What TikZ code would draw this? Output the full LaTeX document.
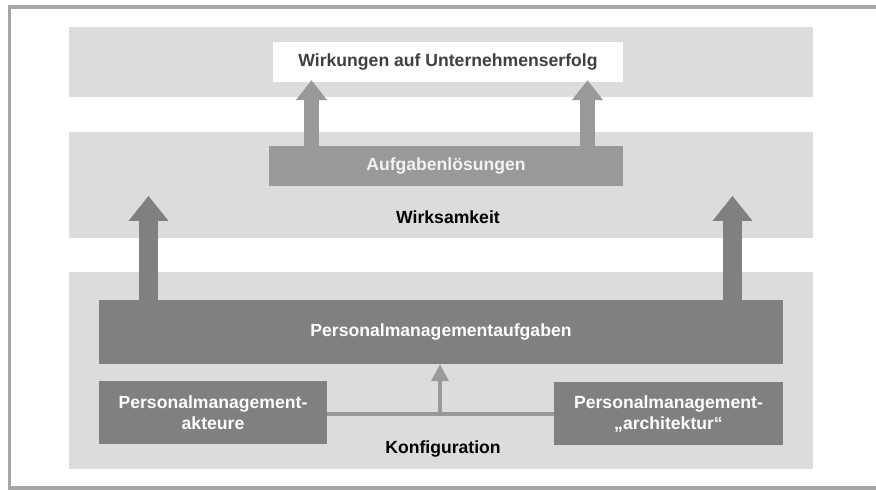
\documentclass[tikz,border=0pt]{standalone}
\usepackage{fontspec}
\setmainfont{Liberation Sans}
\usetikzlibrary{arrows.meta}
\definecolor{band}{HTML}{DCDCDC}
\definecolor{midgray}{HTML}{999999}
\definecolor{darkbox}{HTML}{808080}
\definecolor{framec}{HTML}{A6A6A6}
\definecolor{toptext}{HTML}{404040}
\tikzset{
  band/.style={fill=band, draw=none, inner sep=0pt},
  boxbase/.style={draw=none, inner sep=0pt, align=center, font=\fontsize{17.6}{21}\selectfont\bfseries},
  lightbox/.style={boxbase, fill=midgray, text=white!95!black},
  darkbx/.style={boxbase, fill=darkbox, text=white},
  whitebox/.style={boxbase, fill=white, text=toptext},
  caption/.style={inner sep=0pt, font=\fontsize{17.6}{21}\selectfont\bfseries, text=black},
  uparrow/.style={draw=midgray, line width=15pt, -{Triangle[width=30pt,length=20pt]}},
  bigarrow/.style={draw=darkbox, line width=19pt, -{Triangle[width=38pt,length=25pt]}},
  thinline/.style={draw=midgray, line width=3.5pt},
  smallarrow/.style={draw=midgray, line width=3.5pt, -{Triangle[width=17pt,length=17pt]}}
}
\begin{document}
\begin{tikzpicture}[x=1pt,y=-1pt]
\useasboundingbox (0,0) rectangle (876,490);
% frame
\draw[framec, line width=3.5pt] (876,7) -- (9.5,7) -- (9.5,488) -- (876,488);
% bands
\node[band, minimum width=744pt, minimum height=70pt] (topband) at (441,62) {};
\node[band, minimum width=744pt, minimum height=106pt] (midband) at (441,185) {};
\node[band, minimum width=744pt, minimum height=197pt] (lowband) at (441,370.5) {};
% boxes
\node[whitebox, minimum width=350pt, minimum height=40pt] (wirk) at (448,62) {Wirkungen auf Unternehmenserfolg};
\node[lightbox, minimum width=354pt, minimum height=40pt] (aufg) at (446,166) {Aufgabenlösungen};
\node[caption] (wirks) at (448,217) {Wirksamkeit};
\node[darkbx, minimum width=684pt, minimum height=64pt] (pma) at (441,332) {Personalmanagementaufgaben};
\node[darkbx, minimum width=228pt, minimum height=63pt] (akt) at (213,412.5) {Personalmanagement-\\akteure};
\node[darkbx, minimum width=229pt, minimum height=63pt] (arch) at (668.5,413.5) {Personalmanagement-\\„architektur“};
\node[caption] (konf) at (443,449) {Konfiguration};
% connectors
\coordinate (mid) at (440,414);
\draw[thinline] (akt.east |- mid) -- (arch.west |- mid);
\draw[smallarrow] (mid) -- (mid |- pma.south);
\draw[uparrow] ([xshift=-134.5pt]aufg.north) -- ([xshift=-134.5pt,yshift=2pt]aufg.north |- wirk.south);
\draw[uparrow] ([xshift=141.5pt]aufg.north) -- ([xshift=141.5pt,yshift=2pt]aufg.north |- wirk.south);
\draw[bigarrow] ([xshift=-292.5pt]pma.north) -- ([xshift=-292.5pt,yshift=-64pt]pma.north |- midband.north);
\draw[bigarrow] ([xshift=291.5pt]pma.north) -- ([xshift=291.5pt,yshift=-64pt]pma.north |- midband.north);
\end{tikzpicture}
\end{document}
